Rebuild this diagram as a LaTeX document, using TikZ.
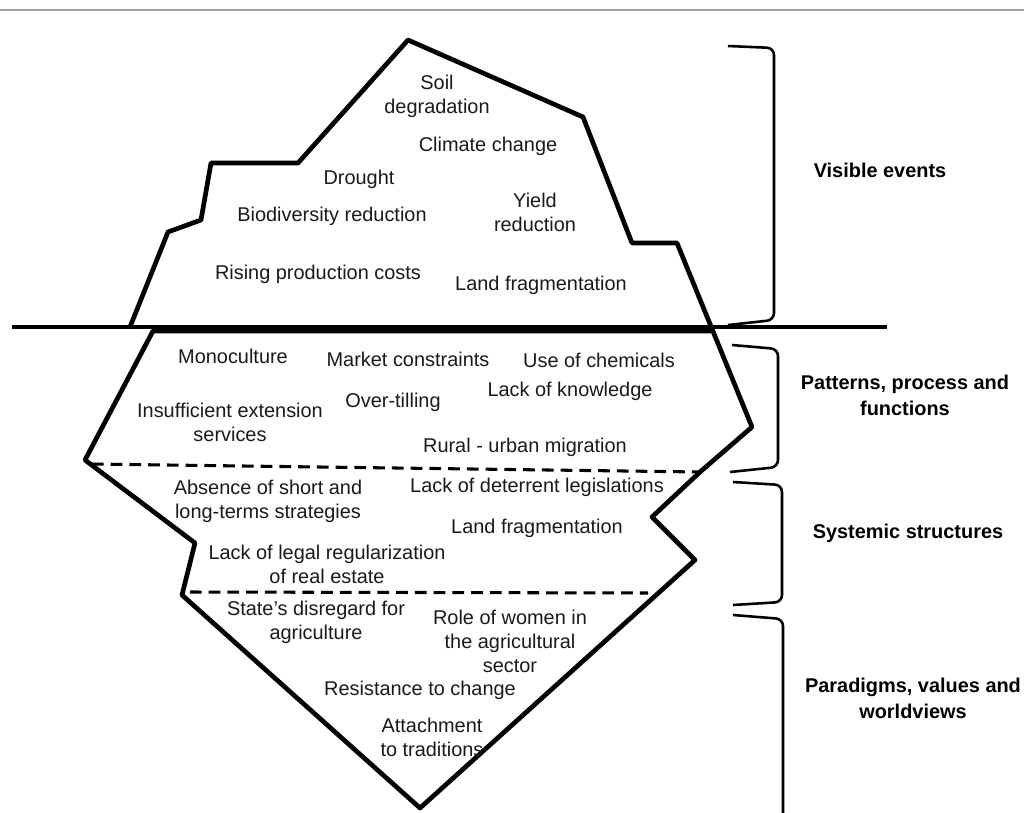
\documentclass[tikz,border=0pt]{standalone}
\usepackage{fontspec}
\setmainfont{Liberation Sans}
\begin{document}
\begin{tikzpicture}[x=0.03cm,y=-0.03cm,
  txt/.style={font=\fontsize{17}{20.4}\selectfont, align=center, inner sep=0pt, text=black!90},
  lbl/.style={font=\fontsize{17}{22}\selectfont\bfseries, align=center, inner sep=0pt},
  berg/.style={line width=4pt, line join=round},
  water/.style={line width=3pt},
  brk/.style={line width=2.2pt, rounded corners=6pt},
  dashline/.style={line width=2.6pt, dash pattern=on 10pt off 6pt}]
\useasboundingbox (0,0) rectangle (1024,813);
% top rule
\draw[line width=1.6pt, color={rgb,255:red,160;green,160;blue,172}] (0,10) -- (1024,10);
% waterline
\draw[water] (12,327) -- (887,327);
% iceberg outline
\draw[berg] (130,327) -- (168,232) -- (201,220) -- (211,163) -- (298,163) -- (408,40)
  -- (583,117) -- (632,243) -- (677,243) -- (752,427) -- (700,472) -- (652,517)
  -- (695,560) -- (420,808) -- (182,595) -- (195,543) -- (85,460) -- (153,331) -- (711,331);
% dashed separators
\draw[dashline] (92,464) -- (700,472);
\draw[dashline] (190,592) -- (648,593);
% brackets
\draw[brk] (728,46) -- (774,48) -- (774,320) -- (728,325);
\draw[brk] (732,345) -- (778,349) -- (778,467) -- (730,472);
\draw[brk] (733,482) -- (782,485) -- (782,602) -- (733,605);
\draw[brk] (733,615) -- (783,619) -- (783,830);
% level labels
\node[lbl] (visible) at (880,170) {Visible events};
\node[lbl] (patterns) at (905,395) {Patterns, process and\\functions};
\node[lbl] (systemic) at (908,533) {Systemic structures};
\node[lbl] (paradigms) at (913,698) {Paradigms, values and\\worldviews};
% visible events
\node[txt] (soil) at (437,96) {Soil\\degradation};
\node[txt] (climate) at (488,146) {Climate change};
\node[txt] (drought) at (359,179) {Drought};
\node[txt] (biodiv) at (332,216) {Biodiversity reduction};
\node[txt] (yield) at (535,212) {Yield\\reduction};
\node[txt] (costs) at (318,274) {Rising production costs};
\node[txt] (landfrag1) at (541,285) {Land fragmentation};
% patterns
\node[txt] (mono) at (233,356) {Monoculture};
\node[txt] (market) at (408,359) {Market constraints};
\node[txt] (chem) at (599,360) {Use of chemicals};
\node[txt] (knowledge) at (570,391) {Lack of knowledge};
\node[txt] (extension) at (230,422) {Insufficient extension\\services};
\node[txt] (tilling) at (393,402) {Over-tilling};
\node[txt] (migration) at (525,447) {Rural - urban migration};
% systemic
\node[txt] (absence) at (268,501) {Absence of short and\\long-terms strategies};
\node[txt] (deterrent) at (537,487) {Lack of deterrent legislations};
\node[txt] (landfrag2) at (537,528) {Land fragmentation};
\node[txt] (legal) at (327,564) {Lack of legal regularization\\of real estate};
% paradigms
\node[txt] (state) at (316,622) {State’s disregard for\\agriculture};
\node[txt] (women) at (510,641) {Role of women in\\the agricultural\\sector};
\node[txt] (resist) at (420,690) {Resistance to change};
\node[txt] (attach) at (432,737) {Attachment\\to traditions};
\end{tikzpicture}
\end{document}
